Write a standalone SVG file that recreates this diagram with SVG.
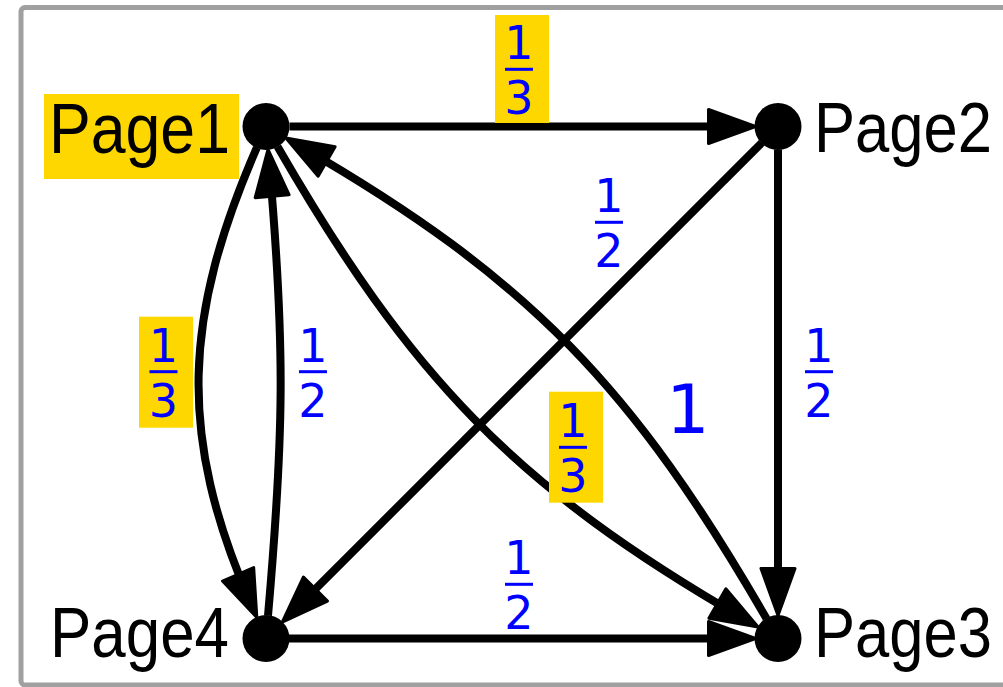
<svg xmlns="http://www.w3.org/2000/svg" width="1003" height="687" viewBox="0 0 1003 687">
<defs>
<style>
.edge{fill:none;stroke:#000;stroke-width:8;marker-end:url(#ah)}
.node{fill:#000}
.name{font-family:"Liberation Sans",Arial,sans-serif;font-size:65px;fill:#000}
.num{font-family:"DejaVu Sans","Liberation Sans",sans-serif;font-size:46px;fill:#0000ff;text-anchor:middle}
.bar{fill:#0000ff}
.hl{fill:#ffd700}
</style>
<marker id="ah" markerUnits="userSpaceOnUse" orient="auto" markerWidth="60" markerHeight="60" refX="31" refY="0" viewBox="-5 -25 60 50" overflow="visible">
<path d="M0,-17 L47,0 L0,17 Z" fill="#000" stroke="#000" stroke-width="3" stroke-linejoin="round"/>
</marker>
</defs>
<rect x="21" y="7.5" width="990" height="677.5" rx="4" fill="#fff" stroke="#a0a0a0" stroke-width="5"/>
<g id="connectors">
<path class="edge" d="M289.5,126.5 L739.5,126.5"/>
<path class="edge" d="M778,149.5 L778,599.5"/>
<path class="edge" d="M289,638.5 L739.5,638.5"/>
<path class="edge" d="M761.74,142.76 L293.57,610.93"/>
<path class="edge" d="M256.83,147.59 C183.5,316.27 177.12,434.06 250.45,602.74"/>
<path class="edge" d="M268,615.59 C283.91,433.79 285.3,347.15 269.4,165.35"/>
<path class="edge" d="M277.5,146.42 C410.55,376.85 513.74,485.95 744.22,619"/>
<path class="edge" d="M766.5,618.58 C633.45,388.13 530.2,279.05 299.78,146"/>
</g>
<g id="labels">
<g id="l12"><rect class="hl" x="495" y="15" width="54" height="108"/><text class="num" x="519" y="59">1</text><rect class="bar" x="505" y="67.8" width="28" height="3"/><text class="num" x="519" y="114">3</text></g>
<g id="l23"><text class="num" x="819" y="361.7">1</text><rect class="bar" x="805" y="370.2" width="28" height="3"/><text class="num" x="819" y="416.7">2</text></g>
<g id="l43"><text class="num" x="519" y="574.3">1</text><rect class="bar" x="505" y="582.8" width="28" height="3"/><text class="num" x="519" y="629.3">2</text></g>
<g id="l24"><text class="num" x="609" y="212.3">1</text><rect class="bar" x="595" y="220.8" width="28" height="3"/><text class="num" x="609" y="267.3">2</text></g>
<g id="l14"><rect class="hl" x="139" y="316.7" width="54" height="111"/><text class="num" x="163.5" y="361.7">1</text><rect class="bar" x="149.5" y="370.2" width="28" height="3"/><text class="num" x="163.5" y="416.7">3</text></g>
<g id="l41"><text class="num" x="313" y="361.7">1</text><rect class="bar" x="299" y="370.2" width="28" height="3"/><text class="num" x="313" y="416.7">2</text></g>
<g id="l13"><rect class="hl" x="549" y="391.7" width="54" height="111"/><text class="num" x="573" y="437.3">1</text><rect class="bar" x="559" y="445.8" width="28" height="3"/><text class="num" x="573" y="492.3">3</text></g>
<g id="l31"><text class="num" x="688" y="433" style="font-size:68px">1</text></g>
</g>
<g id="page1"><rect class="hl" x="44" y="94" width="195" height="85"/><circle class="node" cx="266" cy="126.5" r="23.5"/><text class="name" transform="translate(49,153) scale(1,1.08)" x="0" y="0" textLength="181" lengthAdjust="spacingAndGlyphs">Page1</text></g>
<g id="page2"><circle class="node" cx="778" cy="126.5" r="23.5"/><text class="name" transform="translate(814,152) scale(1,1.08)" x="0" y="0" textLength="178" lengthAdjust="spacingAndGlyphs">Page2</text></g>
<g id="page3"><circle class="node" cx="778" cy="638.5" r="23.5"/><text class="name" transform="translate(814,657) scale(1,1.08)" x="0" y="0" textLength="178" lengthAdjust="spacingAndGlyphs">Page3</text></g>
<g id="page4"><circle class="node" cx="266" cy="638.5" r="23.5"/><text class="name" transform="translate(50,657) scale(1,1.08)" x="0" y="0" textLength="179" lengthAdjust="spacingAndGlyphs">Page4</text></g>
</svg>
